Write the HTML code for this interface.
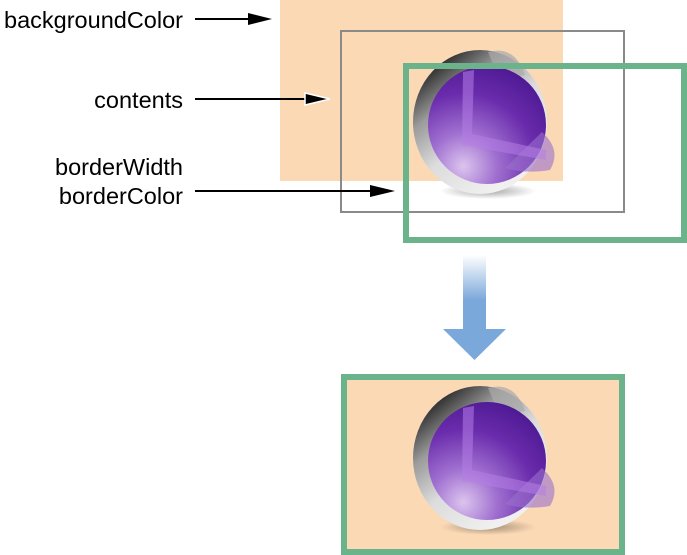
<!DOCTYPE html>
<html><head><meta charset="utf-8"><style>
html,body{margin:0;padding:0;background:#fff;}
svg{display:block;}
text{font-family:"Liberation Sans",Arial,sans-serif;font-size:23.5px;fill:#000;}
</style></head><body>
<svg width="687" height="555" viewBox="0 0 687 555" xmlns="http://www.w3.org/2000/svg">
<defs>
  <linearGradient id="shell" x1="0.1" y1="0.1" x2="0.7" y2="0.9">
    <stop offset="0" stop-color="#1a1a1a"/>
    <stop offset="0.3" stop-color="#9a9a9a"/>
    <stop offset="0.6" stop-color="#dcdcdc"/>
    <stop offset="1" stop-color="#f0f0f0"/>
  </linearGradient>
  <radialGradient id="purp" cx="0.3" cy="0.85" r="0.95">
    <stop offset="0" stop-color="#dcc4ee"/>
    <stop offset="0.3" stop-color="#a070d0"/>
    <stop offset="0.65" stop-color="#6a2cac"/>
    <stop offset="1" stop-color="#4a1690"/>
  </radialGradient>
  <radialGradient id="shadow" cx="0.5" cy="0.5" r="0.5">
    <stop offset="0" stop-color="#000" stop-opacity="0.35"/>
    <stop offset="1" stop-color="#000" stop-opacity="0"/>
  </radialGradient>
  <linearGradient id="blue" x1="0" y1="0" x2="0" y2="1">
    <stop offset="0" stop-color="#7ba8da" stop-opacity="0"/>
    <stop offset="0.6" stop-color="#7ba8da"/>
    <stop offset="1" stop-color="#7ba8da"/>
  </linearGradient>
  <g id="sphere">
    <ellipse cx="488" cy="191" rx="48" ry="8" fill="url(#shadow)"/>
    <ellipse cx="480" cy="122" rx="67" ry="72" fill="url(#shell)"/>
    <path d="M488 52 Q515 45 525 75 L500 80 Z" fill="#aaa" opacity="0.7"/>
    <circle cx="487" cy="125" r="59" fill="url(#purp)"/>
    <path d="M542 132 Q562 150 550 170 Q525 174 505 168 Z" fill="#9a70cc" opacity="0.6"/>
    <path d="M463 72 L462 145 L546 160 L546 150 L472 134 L474 70 Z" fill="#b57ee6" opacity="0.55"/>
  </g>
</defs>

<rect x="280" y="0" width="283" height="181" fill="#fbd9b5"/>
<use href="#sphere"/>
<rect x="341" y="31" width="283" height="181" fill="none" stroke="#8a8a8a" stroke-width="2"/>
<rect x="406" y="66" width="278" height="174" fill="none" stroke="#6bb38a" stroke-width="6"/>

<text x="183" y="28" text-anchor="end">backgroundColor</text>
<text x="183" y="108" text-anchor="end">contents</text>
<text x="183" y="175" text-anchor="end">borderWidth</text>
<text x="183" y="204" text-anchor="end">borderColor</text>

<line x1="195" y1="19" x2="250" y2="19" stroke="#000" stroke-width="2"/>
<polygon points="248,13 272,19 248,25" fill="#000"/>
<line x1="195" y1="99" x2="308" y2="99" stroke="#000" stroke-width="2"/>
<polygon points="305,93 330,99 305,105" fill="#000" stroke="#fff" stroke-width="1.5"/>
<line x1="195" y1="191" x2="372" y2="191" stroke="#000" stroke-width="2"/>
<polygon points="370,185 395,191 370,197" fill="#000"/>

<rect x="463" y="255" width="23" height="75" fill="url(#blue)"/>
<polygon points="443,329 506,329 474.5,360" fill="#7ba8da"/>

<rect x="344" y="377" width="278" height="175" fill="#fbd9b5" stroke="#6bb38a" stroke-width="6"/>
<use href="#sphere" transform="translate(0,336)"/>
</svg>
</body></html>
